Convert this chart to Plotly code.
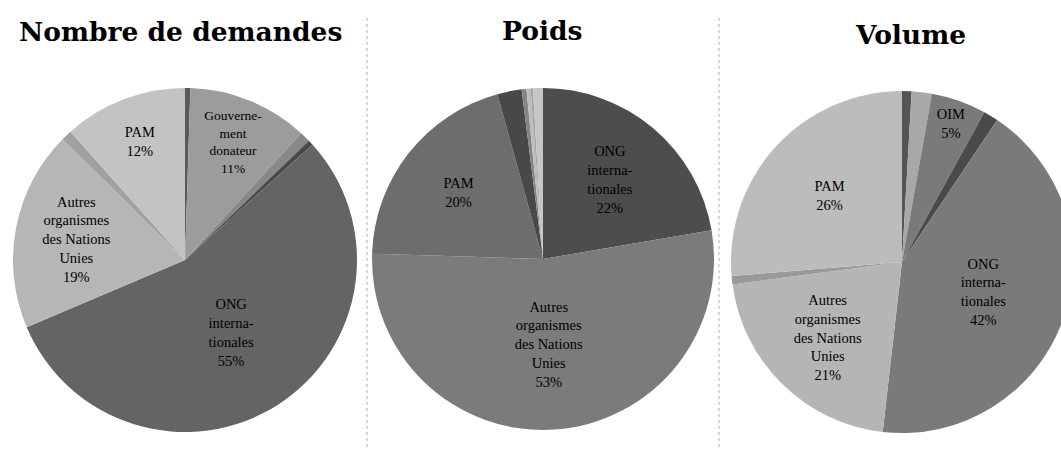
import plotly.graph_objects as go

# ---- data (clockwise from 12 o'clock) ----
demandes_labels = ["Autre A", "Gouvernement donateur", "Autre B", "Autre C",
                   "ONG internationales", "Autres organismes des Nations Unies",
                   "Autre D", "PAM"]
demandes_text = ["", "Gouverne-<br>ment<br>donateur", "", "",
                 "ONG<br>interna-<br>tionales",
                 "Autres<br>organismes<br>des Nations<br>Unies", "", "PAM"]
demandes_values = [0.5, 11.3, 1.0, 0.5, 55.3, 18.8, 1.0, 11.6]
demandes_colors = ["#5a5a5a", "#9c9c9c", "#888888", "#4a4a4a",
                   "#646464", "#b6b6b6", "#a0a0a0", "#c3c3c3"]

poids_labels = ["ONG internationales", "Autres organismes des Nations Unies",
                "PAM", "Autre A", "Autre B", "Autre C", "Autre D", "Autre E"]
poids_text = ["ONG<br>interna-<br>tionales",
              "Autres<br>organismes<br>des Nations<br>Unies", "PAM",
              "", "", "", "", ""]
poids_values = [22.3, 53.2, 20.2, 2.3, 0.45, 0.4, 0.2, 0.95]
poids_colors = ["#4d4d4d", "#7b7b7b", "#6d6d6d", "#484848",
                "#858585", "#bdbdbd", "#a0a0a0", "#c6c6c6"]

volume_labels = ["Autre A", "Autre B", "OIM", "Autre C", "ONG internationales",
                 "Autres organismes des Nations Unies", "Autre D", "PAM"]
volume_text = ["", "", "OIM", "", "ONG<br>interna-<br>tionales",
               "Autres<br>organismes<br>des Nations<br>Unies", "", "PAM"]
volume_values = [0.9, 1.9, 5.2, 1.4, 42.4, 21.1, 0.8, 26.3]
volume_colors = ["#555555", "#a8a8a8", "#7a7a7a", "#4a4a4a",
                 "#7a7a7a", "#b5b5b5", "#999999", "#bcbcbc"]

titles = ["Nombre de demandes", "Poids", "Volume"]

W, H = 1080, 449


def px_x(x):
    return x / W


def px_y(y):
    return 1 - y / H


def templates(texts):
    return [f"{t}<br>%{{percent:.0%}}" if t else "" for t in texts]


def dom(cx, cy, r):
    return dict(x=[px_x(cx - r), px_x(cx + r)], y=[px_y(cy + r), px_y(cy - r)])


fig = go.Figure()
pies = [
    (demandes_labels, demandes_values, demandes_text, demandes_colors, (185, 260, 172)),
    (poids_labels, poids_values, poids_text, poids_colors, (543, 259, 171)),
    (volume_labels, volume_values, volume_text, volume_colors, (902, 262, 171)),
]
for labels, values, texts, colors, (cx, cy, r) in pies:
    fig.add_trace(go.Pie(
        labels=labels, values=values, sort=False, direction="clockwise",
        rotation=0, texttemplate=templates(texts), textposition="inside",
        insidetextorientation="horizontal",
        insidetextfont=dict(family="Liberation Serif", size=14.5, color="#000000"),
        marker=dict(colors=colors, line=dict(width=0)),
        domain=dom(cx, cy, r), showlegend=False, hoverinfo="label+percent",
    ))

title_pos = [(180, 32), (542, 30), (910, 35)]
for t, (x, y) in zip(titles, title_pos):
    fig.add_annotation(text=f"<b>{t}</b>", x=px_x(x), y=px_y(y), xref="paper",
                       yref="paper", showarrow=False, xanchor="center",
                       yanchor="middle",
                       font=dict(family="DejaVu Serif", size=26.5, color="#000000"))

for sx in (367, 719):
    fig.add_shape(type="line", xref="paper", yref="paper", x0=px_x(sx), x1=px_x(sx),
                  y0=px_y(18), y1=0, line=dict(color="#b0b0b0", width=1, dash="dot"))

fig.update_layout(width=W, height=H, margin=dict(l=0, r=0, t=0, b=0),
                  paper_bgcolor="white", plot_bgcolor="white")

fig.write_html("out.html", config={"displayModeBar": False}, post_script=(
    "document.body.style.margin='0';"
    "document.body.style.overflow='hidden';"
    "document.documentElement.style.overflow='hidden';"))
